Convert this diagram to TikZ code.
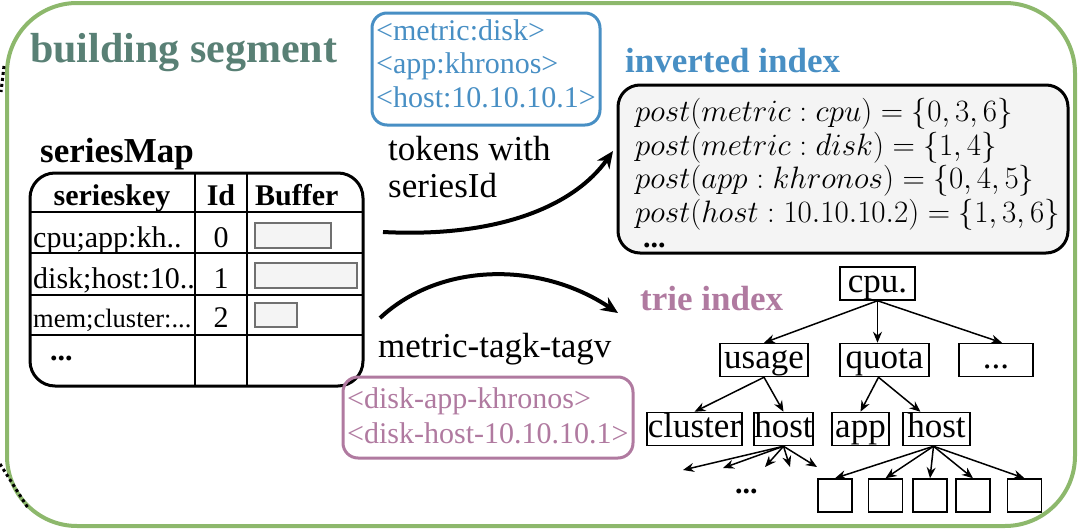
\RequirePackage{fix-cm}
\documentclass[tikz,border=0pt]{standalone}
\usepackage{fontspec}
\setmainfont{Liberation Serif}
\usetikzlibrary{arrows.meta}

\definecolor{segGreen}{RGB}{141,184,108}
\definecolor{segTeal}{RGB}{89,128,117}
\definecolor{tokBlue}{RGB}{72,143,196}
\definecolor{triePink}{RGB}{176,122,160}
\definecolor{invGray}{RGB}{244,244,244}
\definecolor{bufGray}{RGB}{112,112,112}

\newcommand{\fsHuge}{\fontsize{42}{48}\selectfont}
\newcommand{\fsBig}{\fontsize{35}{40}\selectfont}
\newcommand{\fsMid}{\fontsize{30}{34}\selectfont}
\newcommand{\fsMath}{\fontsize{31}{35}\selectfont}
\newcommand{\fsSmall}{\fontsize{26.5}{30}\selectfont}

\tikzset{
  txt/.style={anchor=base west, inner sep=0pt},
  ctxt/.style={anchor=base, inner sep=0pt},
  tokbox/.style={draw=tokBlue, line width=3pt, rounded corners=15pt},
  tagbox/.style={draw=triePink, line width=3pt, rounded corners=15pt},
  flow/.style={-{Stealth[length=17pt,width=15pt]}, line width=4pt},
  trie/.style={draw, line width=1.5pt, inner sep=0pt, minimum height=33pt, text height=24pt, text depth=7pt, font=\fsBig},
  tedge/.style={-{Stealth[length=11pt,width=9pt]}, line width=1.5pt},
  buf/.style={draw=bufGray, fill=invGray, line width=2pt},
}

\begin{document}
\begin{tikzpicture}[x=1pt, y=-1pt]
	\useasboundingbox (0,0) rectangle (1080,530);

	% segment frame
	\draw[segGreen, line width=4pt, rounded corners=70pt] (7,3) rectangle (1075,526);
	\draw[line width=3pt, dash pattern=on 3pt off 3pt] (4,66) -- (1,92);
	\draw[line width=3pt, dash pattern=on 3pt off 3pt] (0,464) -- (28,508);
	\node[txt, font=\fsHuge\bfseries, text=segTeal] (title) at (30,62) {building segment};

	% seriesMap table
	\node[txt, font=\fsBig\bfseries] (smap) at (40,162) {seriesMap};
	\draw[line width=3pt, rounded corners=25pt] (30,173) rectangle (363,386);
	\draw[line width=2pt] (195,173) -- (195,386) (247,173) -- (247,386);
	\foreach \y in {212,253,295,335}
		\draw[line width=2pt] (30,\y) -- (363,\y);

	\node[ctxt, font=\fsMid\bfseries] (hkey) at (112,205) {serieskey};
	\node[ctxt, font=\fsMid\bfseries] (hid) at (221,205) {Id};
	\node[txt, font=\fsMid\bfseries] (hbuf) at (255,205) {Buffer};

	\node[txt, font=\fsMid] (key0) at (33,247) {cpu;app:kh..};
	\node[txt, font=\fsMid] (key1) at (33,288) {disk;host:10..};
	\node[txt, font=\fsSmall] (key2) at (33,327) {mem;cluster:...};
	\node[txt, font=\fsMid\bfseries] (key3) at (50,360) {...};
	\foreach \i/\y in {0/247,1/288,2/327}
		\node[ctxt, font=\fsMid] (id\i) at (221,\y) {\i};

	\draw[buf] (255,223) rectangle (331,248);
	\draw[buf] (255,263) rectangle (357,288);
	\draw[buf] (255,303) rectangle (297,327);

	% tokens
	\node[tokbox, minimum width=228pt, minimum height=112pt] (tok) at (486,69) {};
	\node[txt, font=\fsMid, text=tokBlue] (tok1) at (376,40) {<metric:disk>};
	\node[txt, font=\fsMid, text=tokBlue] (tok2) at (376,73) {<app:khronos>};
	\node[txt, font=\fsMid, text=tokBlue] (tok3) at (376,107) {<host:10.10.10.1>};

	\node[txt, font=\fsBig] (tokA) at (388,160) {tokens with};
	\node[txt, font=\fsBig] (tokB) at (388,197) {seriesId};

	\coordinate (tokStart) at (383,232);
	\coordinate (tokEnd) at (613,151);
	\draw[flow] (tokStart) .. controls (500,238) and (575,205) .. (tokEnd);

	\coordinate (tagStart) at (380,318);
	\coordinate (tagEnd) at (618,313);
	\draw[flow] (tagStart) .. controls (440,262) and (540,261) .. (tagEnd);

	\node[txt, font=\fsBig] (tagname) at (378,357) {metric-tagk-tagv};
	\node[tagbox, minimum width=290pt, minimum height=81pt] (tag) at (488,417.5) {};
	\node[txt, font=\fsMid, text=triePink] (tag1) at (347,408) {<disk-app-khronos>};
	\node[txt, font=\fsMid, text=triePink] (tag2) at (347,443) {<disk-host-10.10.10.1>};

	% inverted index
	\node[txt, font=\fsBig\bfseries, text=tokBlue] (invtitle) at (625,72) {inverted index};
	\node[draw, fill=invGray, line width=3pt, rounded corners=22pt, minimum width=450pt, minimum height=168pt] (inv) at (843,169) {};
	\node[txt, font=\fsMath] (post1) at (635,121) {$post(metric: cpu) = \{0,3,6\}$};
	\node[txt, font=\fsMath] (post2) at (635,155) {$post(metric: disk) = \{1,4\}$};
	\node[txt, font=\fsMath] (post3) at (635,188) {$post(app: khronos) = \{0,4,5\}$};
	\node[txt, font=\fsMath] (post4) at (635,222) {$post(host: 10.10.10.2) = \{1,3,6\}$};
	\node[txt, font=\fsMid\bfseries] (post5) at (643,247) {...};

	% trie index
	\node[txt, font=\fsBig\bfseries, text=triePink] (trietitle) at (640,310) {trie index};
	\node[trie, minimum width=75pt] (cpu) at (877.5,283.5) {cpu.};
	\node[trie, minimum width=88pt] (usage) at (764,360) {usage};
	\node[trie, minimum width=89pt] (quota) at (884.5,360) {quota};
	\node[trie, minimum width=74pt] (more) at (996,360) {...};
	\node[trie, minimum width=95pt] (cluster) at (694.5,429) {cluster};
	\node[trie, minimum width=59pt] (hostA) at (783.5,429) {host};
	\node[trie, minimum width=57pt] (app) at (860.5,429) {app};
	\node[trie, minimum width=67pt] (hostB) at (936.5,429) {host};
	\foreach \i/\x in {1/835,2/885.5,3/930,4/973,5/1024.5}
		\node[trie, minimum width=34pt] (leaf\i) at (\x,495.5) {};
	\node[txt, font=\fsMid\bfseries] (hostAmore) at (735,493) {...};

	\draw[tedge] (cpu.south) -- (usage.north);
	\draw[tedge] (cpu.south) -- (cpu.south |- quota.north);
	\draw[tedge] (cpu.south) -- ([xshift=6pt]more.north);
	\draw[tedge] (usage.south) -- (cluster.north);
	\draw[tedge] (usage.south) -- (hostA.north);
	\draw[tedge] ([xshift=-6pt]quota.south) -- (app.north);
	\draw[tedge] ([xshift=-6pt]quota.south) -- ([xshift=-16pt]hostB.north);

	\foreach \i/\x/\y in {1/683/470,2/723/468,3/765/467,4/790/467,5/817/467}
		\coordinate (hA\i) at (\x,\y);
	\foreach \i in {1,...,5}
		\draw[tedge] (hostA.south) -- (hA\i);
	\foreach \i in {1,...,5}
		\draw[tedge] ([xshift=-3pt]hostB.south) -- (leaf\i.north);

\end{tikzpicture}
\end{document}
